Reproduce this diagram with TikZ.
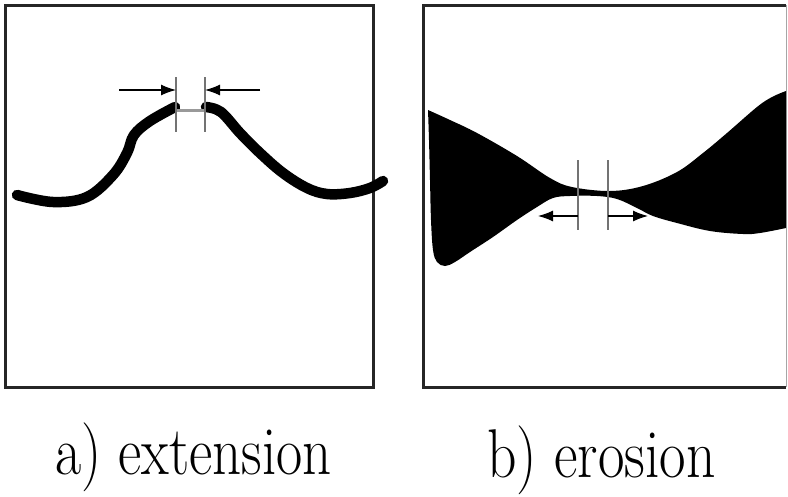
\documentclass[tikz,border=0pt]{standalone}
\usepackage{tikz}
\usetikzlibrary{arrows.meta, positioning}

\begin{document}
\begin{tikzpicture}[
    x=1pt, y=-1pt,
    frame/.style={draw=black!85, line width=3pt},
    thinframe/.style={draw=black!35, line width=1pt},
    stroke/.style={line width=10.5pt, line cap=round, line join=round, black},
    bridge/.style={line width=3pt, black!40},
    dimline/.style={line width=1.3pt, black!55},
    dimarrow/.style={-{Latex[length=15pt, width=11pt]}, line width=1.2pt, black},
    caption/.style={font=\fontsize{60}{64}\selectfont, inner sep=0pt},
]
\useasboundingbox (0,0) rectangle (788,496);

% ── Frames ──
\draw[frame] (5,5) rectangle (373,387);
\draw[frame] (786,5) -- (423,5) -- (423,387) -- (786,387);
\draw[thinframe] (786,5) -- (786,387);

% ── a) extension: broken curve ──
\draw[stroke] plot[smooth, tension=0.6] coordinates {(17,195) (53,202) (87,197) (113,175) (127,153) (134,135) (150,121) (175,107)};
\draw[stroke] plot[smooth, tension=0.6] coordinates {(206,107) (221,112) (240,133) (260,153) (283,173) (307,188) (327,194) (350,193) (370,188) (383,181)};
\draw[bridge] (176,110) -- (205,110);

% ── a) dimension marks ──
\coordinate (aL top) at (176,77);
\coordinate (aL bot) at (176,132);
\coordinate (aR top) at (205,77);
\coordinate (aR bot) at (205,132);
\coordinate (aL tail) at (119,90);
\coordinate (aL tip) at (176,90);
\coordinate (aR tail) at (260,90);
\coordinate (aR tip) at (205,90);
\draw[dimline] (aL top) -- (aL bot);
\draw[dimline] (aR top) -- (aR bot);
\draw[dimarrow] (aL tail) -- (aL tip);
\draw[dimarrow] (aR tail) -- (aR tip);

% ── b) erosion: eroded band ──
\fill[black] plot[smooth, tension=0.6] coordinates {(428,110) (450,120) (477,133) (517,156) (550,178) (572,187) (610,191) (643,186) (677,172) (703,153) (727,133) (757,107) (772,97) (786,91)}
  -- plot[smooth, tension=0.6] coordinates {(786,228) (760,233) (743,234) (710,231) (677,223) (653,216) (637,208) (617,199) (597,196) (570,196) (553,198) (537,207) (517,220) (493,237) (470,252) (455,262) (445,266) (437,262) (433,250) (431,220) (430,180) (429,140) (428,110)}
  -- cycle;

% ── b) dimension marks ──
\coordinate (bL top) at (578,160);
\coordinate (bL bot) at (578,230);
\coordinate (bR top) at (608,160);
\coordinate (bR bot) at (608,230);
\coordinate (bL tail) at (578,216);
\coordinate (bL tip) at (538,216);
\coordinate (bR tail) at (608,216);
\coordinate (bR tip) at (648,216);
\draw[dimline] (bL top) -- (bL bot);
\draw[dimline] (bR top) -- (bR bot);
\draw[dimarrow] (bL tail) -- (bL tip);
\draw[dimarrow] (bR tail) -- (bR tip);

% ── Captions ──
\node[caption, anchor=base west] (cap_a) at (55,474) {\scalebox{0.95}[1.15]{a) extension}};
\node[caption, anchor=base west] (cap_b) at (487,477) {\scalebox{0.96}[1.15]{b) erosion}};

\end{tikzpicture}
\end{document}
